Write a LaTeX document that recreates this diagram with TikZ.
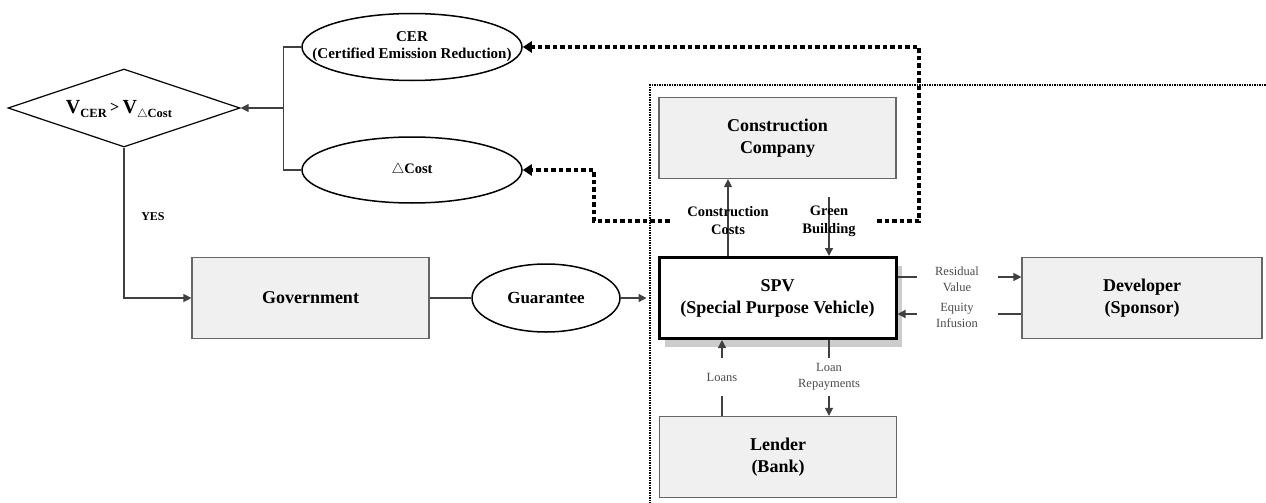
\documentclass[tikz,border=0pt]{standalone}
\usepackage{fontspec}
\setmainfont{Liberation Serif}
\usetikzlibrary{shapes.geometric,arrows.meta,shadows,calc}
\begin{document}
\begin{tikzpicture}[x=1pt,y=-1pt,
  box/.style={draw=black!60, line width=1.2pt, fill=black!6, minimum width=237, minimum height=81,
    font=\fontsize{18}{22}\selectfont\bfseries, align=center, inner sep=0pt},
  spvbox/.style={box, draw=black, line width=3pt, fill=white,
    drop shadow={shadow xshift=6pt, shadow yshift=-8pt, fill=black!20, opacity=1}},
  ell/.style={ellipse, draw=black, line width=1.5pt, fill=white, inner sep=0pt},
  etext/.style={font=\fontsize{14.5}{17}\selectfont\bfseries, align=center, inner sep=0pt},
  dia/.style={diamond, draw=black, line width=1.2pt, fill=white, inner sep=0pt, aspect=2.97},
  conn/.style={draw=black!75, line width=1.3pt},
  tip/.style={-{Triangle[length=8pt,width=8pt]}},
  thickdot/.style={draw=black, line width=3.5pt, dash pattern=on 4.5pt off 3pt,
    -{Triangle[length=9pt,width=11pt]}},
  thindot/.style={draw=black, line width=1.2pt, dash pattern=on 1.5pt off 1pt},
  lbl/.style={fill=white, inner sep=0pt, align=center, text=black!70,
    font=\fontsize{12.5}{16}\selectfont},
  blbl/.style={inner sep=0pt, align=center, font=\fontsize{14.5}{18}\selectfont\bfseries},
  whiteband/.style={fill=white, inner sep=0pt}
]
\useasboundingbox (0,0) rectangle (1266,503);

% thin dotted frame
\coordinate (fbl) at (650,506);
\coordinate (ftl) at (650,85);
\coordinate (ftr) at (1270,85);
\draw[thindot] (fbl) -- (ftl) -- (ftr);

% decision diamond
\node[dia, minimum width=232, minimum height=78] (dia) at (124,108) {};
\node[inner sep=0pt, font=\bfseries] (diat) at (119,110)
  {\fontsize{20}{22}\selectfont V\raisebox{-0.45ex}{\fontsize{12.5}{13}\selectfont CER}\,{\fontsize{16}{17}\selectfont\raisebox{0.15ex}{>}}\,V\raisebox{-0.45ex}{\fontsize{12.5}{13}\selectfont $\triangle$Cost}};

% ellipses
\node[ell, minimum width=220, minimum height=67] (cer) at (412,47) {};
\node[etext, font=\fontsize{15}{17}\selectfont\bfseries] (cert) at (cer) {CER\\(Certified Emission Reduction)};
\node[ell, minimum width=220, minimum height=66] (dcost) at (412,170) {};
\node[etext] (dcostt) at (dcost) {$\triangle$Cost};
\node[ell, minimum width=148, minimum height=68] (guar) at (546,298) {};
\node[etext, font=\fontsize{17}{20}\selectfont\bfseries] (guart) at (guar) {Guarantee};

% boxes
\node[box] (gov) at (310.5,298) {Government};
\node[box] (cc) at (777.5,138) {Construction\\Company};
\node[spvbox] (spv) at (777.5,298) {SPV\\(Special Purpose Vehicle)};
\node[box, minimum width=240] (dev) at (1142,298) {Developer\\(Sponsor)};
\node[box] (lend) at (778,457) {Lender\\(Bank)};

% YES label
\node[inner sep=0pt, font=\fontsize{12}{14}\selectfont\bfseries] (yes) at (153,217) {YES};

% left connectors
\draw[conn,tip] (dia.south) |- (gov.west);
\draw[conn] (cer.west) -- ++(-18,0) |- (dcost.west);
\coordinate (trk) at (284,108);
\draw[conn,tip] (trk) -- (dia.east);
\draw[conn] (gov.east) -- (guar.west);
\draw[conn,tip,shorten >=11pt] (guar.east) -- (spv.west);

% thick dotted feedback paths
\node[whiteband, minimum width=207, minimum height=32] (band) at (773.5,221) {};
\coordinate (tr1) at (919,47);
\coordinate (tr2) at (594,170);
\draw[thickdot] (band.east) -| (tr1) -- (cer.east);
\draw[thickdot] (band.west) -| (tr2) -- (dcost.east);
\node[whiteband, minimum width=207, minimum height=32] (band2) at (773.5,221) {};

% construction costs / green building
\coordinate (gbtop) at (829,197);
\draw[conn,tip] (spv.north -| 728,0) -- (cc.south -| 728,0);
\draw[conn,tip] (gbtop) -- (spv.north -| gbtop);
\node[blbl] (lcc) at (728,221) {Construction\\Costs};
\node[blbl] (lgb) at (829,221) {Green\\Building};

% developer flows
\draw[conn,tip] (spv.east |- 0,277) -- (dev.west |- 0,277);
\draw[conn,tip] (dev.west |- 0,314) -- (spv.east |- 0,314);
\node[lbl, minimum width=81, minimum height=34] (lrv) at (957,279) {Residual\\Value};
\node[lbl, minimum width=81, minimum height=34] (lei) at (957,315) {Equity\\Infusion};

% lender flows
\draw[conn,tip] (lend.north -| 722,0) -- (spv.south -| 722,0);
\draw[conn,tip] (spv.south -| 829,0) -- (lend.north -| 829,0);
\node[lbl, minimum width=81, minimum height=38] (lln) at (722,377) {Loans};
\node[lbl, minimum width=83, minimum height=38] (llr) at (829,377) {Loan\\Repayments};
\end{tikzpicture}
\end{document}
